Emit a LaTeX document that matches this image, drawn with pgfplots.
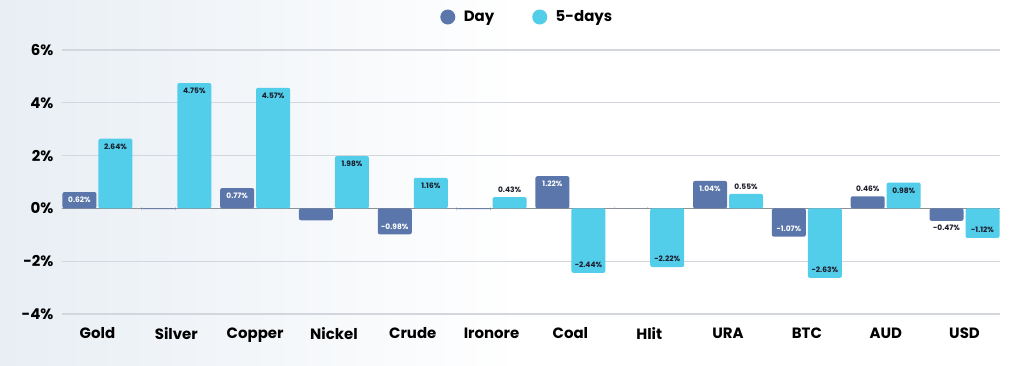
\documentclass[border=0pt]{standalone}
\usepackage{pgfplots}
\pgfplotsset{compat=1.18}
\usepackage{pgfplotstable}
\usepackage{fontspec}
\setmainfont{Poppins}
\definecolor{dayc}{HTML}{5B76AA}
\definecolor{fivec}{HTML}{52CDEA}
\definecolor{gridc}{HTML}{D3D7DD}
\definecolor{zeroc}{HTML}{8E9196}
\definecolor{labc}{HTML}{1B1B2A}
\definecolor{bgl}{HTML}{E8EEF4}
\newcommand{\W}[1]{\textcolor{white}{#1}}

\pgfplotstableread{
x y lab dy
0 0.62 {\W{0.62\%}} -8
1 -0.03 {} 0
2 0.77 {\W{0.77\%}} -8
3 -0.45 {} 0
4 -0.98 {\W{-0.98\%}} 8
5 -0.03 {} 0
6 1.22 {\W{1.22\%}} -8
7 0 {} 0
8 1.04 {\W{1.04\%}} -8
9 -1.07 {\W{-1.07\%}} 8
10 0.46 {0.46\%} 7
11 -0.47 {-0.47\%} -7
}\daytab

\pgfplotstableread{
x y lab dy
0 2.64 {2.64\%} -8
1 4.75 {4.75\%} -8
2 4.57 {4.57\%} -8
3 1.98 {1.98\%} -8
4 1.16 {1.16\%} -8
5 0.43 {0.43\%} 7
6 -2.44 {-2.44\%} 8
7 -2.22 {-2.22\%} 8
8 0.55 {0.55\%} 7
9 -2.63 {-2.63\%} 8
10 0.98 {0.98\%} -8
11 -1.12 {-1.12\%} 8
}\fivetab

\begin{document}
\begin{tikzpicture}
\useasboundingbox (-62bp,-52bp) rectangle (962bp,314bp);
\shade[left color=bgl, right color=white, middle color=white!98!bgl] (-62bp,-52bp) rectangle (962bp,314bp);
\begin{axis}[
  scale only axis,
  width=938bp, height=264bp,
  xmin=-0.45, xmax=11.45,
  ymin=-4, ymax=6,
  axis line style={draw=none},
  xtick={0,...,11},
  xticklabels={Gold,Silver,Copper,Nickel,Crude,Ironore,Coal,Hlit,URA,BTC,AUD,USD},
  ytick={-4,-2,0,2,4,6},
  yticklabels={-4\%,-2\%,0\%,2\%,4\%,6\%},
  major tick length=0pt,
  ymajorgrids,
  grid style={gridc, line width=1.2bp},
  extra y ticks={0},
  extra y tick labels={},
  extra y tick style={grid style={zeroc, line width=1bp}},
  ticklabel style={font=\bfseries\fontsize{15}{15}\selectfont, text=black},
  yticklabel style={xshift=-5bp},
  xticklabel style={yshift=-10bp},
  bar width=34bp,
  legend style={at={(0.496,1.125)}, anchor=center, draw=none, fill=none,
    legend columns=2, font=\bfseries\fontsize{15}{15}\selectfont,
    /tikz/every even column/.append style={column sep=36bp}},
  legend cell align=left,
]
\addplot[ybar, bar shift=-18bp, fill=dayc, draw=none, rounded corners=2bp,
  legend image code/.code={\fill[dayc] (0bp,0bp) circle (7.5bp); \path (14bp,0bp);},
  point meta=explicit symbolic,
  visualization depends on={\thisrow{dy}\as\dy},
  nodes near coords={\pgfplotspointmeta},
  nodes near coords style={anchor=center, xshift=-18bp, yshift=\dy bp, text=labc,
    font=\bfseries\fontsize{7.5}{7.5}\selectfont}]
  table[x=x, y=y, meta=lab] {\daytab};
\addlegendentry{Day}
\addplot[ybar, bar shift=18bp, fill=fivec, draw=none, rounded corners=2bp,
  legend image code/.code={\fill[fivec] (0bp,0bp) circle (7.5bp); \path (14bp,0bp);},
  point meta=explicit symbolic,
  visualization depends on={\thisrow{dy}\as\dy},
  nodes near coords={\pgfplotspointmeta},
  nodes near coords style={anchor=center, xshift=18bp, yshift=\dy bp, text=labc,
    font=\bfseries\fontsize{7.5}{7.5}\selectfont}]
  table[x=x, y=y, meta=lab] {\fivetab};
\addlegendentry{5-days}
\end{axis}
\end{tikzpicture}
\end{document}
